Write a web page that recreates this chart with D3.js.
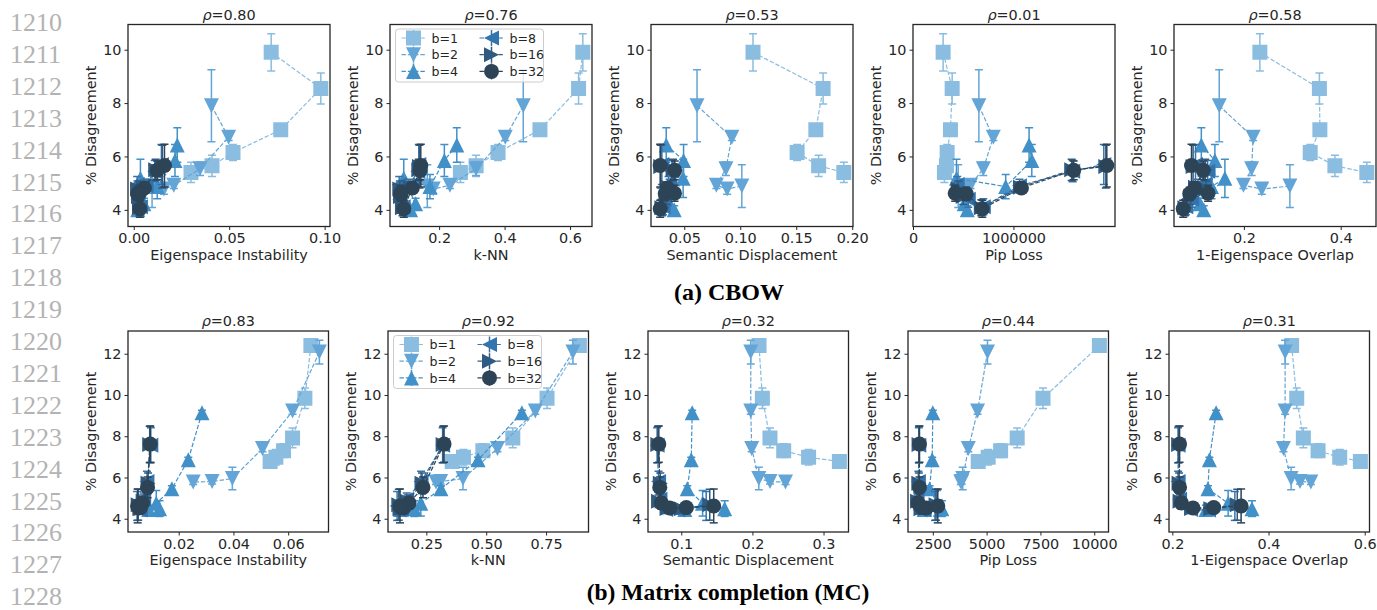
<!DOCTYPE html>
<html>
<head>
<meta charset="utf-8">
<script src="https://cdn.jsdelivr.net/npm/d3@7"></script>
<style>
  body { margin: 0; background: #fff; }
  text { font-family: "DejaVu Sans", sans-serif; fill: #262626; }
</style>
</head>
<body>
<svg width="1377" height="610"></svg>
<script>
// ---- DATA ----
var series = ["b=1", "b=2", "b=4", "b=8", "b=16", "b=32"];
var metrics = ["Eigenspace Instability", "k-NN", "Semantic Displacement", "Pip Loss", "1-Eigenspace Overlap"];

// (a) CBOW : % disagreement and error bar half-widths, one row per precision
var cbowDisagree = [
  [9.9, 8.55, 7.0, 6.15, 5.65, 5.4],
  [7.9, 6.72, 5.54, 4.92, 4.78, 4.89],
  [6.43, 5.85, 4.87, 5.18, 4.23, 4.0],
  [5.7, 5.45, 4.9, 4.12, 4.4, 4.95],
  [5.62, 5.5, 4.85, 4.08, 4.5, 4.78],
  [5.66, 5.48, 4.82, 4.04, 4.6, 4.62]
];
var cbowErr = [
  [0.7, 0.58, 0.22, 0.3, 0.4, 0.38],
  [1.35, 0.12, 0.25, 0.12, 0.2, 0.8],
  [0.65, 0.6, 0.45, 0.72, 0.2, 0.15],
  [0.75, 0.4, 0.25, 0.3, 0.3, 0.3],
  [0.8, 0.4, 0.2, 0.3, 0.3, 0.3],
  [0.8, 0.35, 0.2, 0.32, 0.25, 0.3]
];
var cbowEigInstability = [
  [0.072, 0.098, 0.077, 0.052, 0.041, 0.030],
  [0.0407, 0.0497, 0.0347, 0.021, 0.0158, 0.0096],
  [0.0228, 0.0216, 0.0123, 0.0035, 0.0053, 0.0021],
  [0.0145, 0.011, 0.0065, 0.0035, 0.0022, 0.0018],
  [0.015, 0.0115, 0.005, 0.003, 0.0025, 0.002],
  [0.0161, 0.0123, 0.0056, 0.0032, 0.0021, 0.0030]
];
var cbowKnn = [
  [0.639, 0.626, 0.508, 0.38, 0.313, 0.265],
  [0.457, 0.402, 0.313, 0.233, 0.182, 0.164],
  [0.254, 0.216, 0.172, 0.092, 0.128, 0.113],
  [0.138, 0.135, 0.108, 0.09, 0.08, 0.078],
  [0.14, 0.138, 0.112, 0.088, 0.082, 0.08],
  [0.144, 0.142, 0.118, 0.092, 0.084, 0.082]
];
var cbowSemDisp = [
  [0.1114, 0.174, 0.1675, 0.1508, 0.170, 0.1925],
  [0.0614, 0.0925, 0.0872, 0.0787, 0.0883, 0.1014],
  [0.0339, 0.0494, 0.040, 0.049, 0.037, 0.041],
  [0.03, 0.039, 0.037, 0.031, 0.032, 0.036],
  [0.029, 0.04, 0.036, 0.03, 0.034, 0.038],
  [0.0285, 0.0415, 0.035, 0.0285, 0.033, 0.0413]
];
var cbowPip = [
  [300000, 390000, 373000, 340000, 333000, 313000],
  [656000, 800000, 700000, 573000, 500000, 450000],
  [1156000, 1183000, 923000, 433000, 510000, 540000],
  [1900000, 1590000, 1060000, 700000, 550000, 440000],
  [1920000, 1580000, 1070000, 680000, 500000, 450000],
  [1930000, 1600000, 1080000, 690000, 530000, 420000]
];
var cbowEigOverlap = [
  [0.233, 0.356, 0.357, 0.337, 0.388, 0.454],
  [0.149, 0.219, 0.216, 0.199, 0.237, 0.295],
  [0.112, 0.14, 0.133, 0.1607, 0.109, 0.117],
  [0.1, 0.125, 0.105, 0.08, 0.092, 0.118],
  [0.095, 0.12, 0.1, 0.078, 0.09, 0.122],
  [0.0917, 0.116, 0.0986, 0.0745, 0.088, 0.126]
];
var cbowRho = ["0.80", "0.76", "0.53", "0.01", "0.58"];
var cbowXTicks = [[0, 0.05, 0.1], [0.2, 0.4, 0.6], [0.05, 0.1, 0.15, 0.2], [0, 1000000], [0.2, 0.4]];
var cbowYTicks = [4, 6, 8, 10];

// (b) Matrix completion
var mcDisagree = [
  [12.4, 9.84, 7.92, 7.3, 6.98, 6.78],
  [12.08, 9.22, 7.4, 5.95, 5.8, 5.78],
  [9.14, 6.86, 5.45, 4.75, 4.49, 4.45],
  [7.56, 5.8, 4.95, 4.45, 4.42, 4.62],
  [7.6, 5.72, 4.85, 4.5, 4.48, 4.68],
  [7.62, 5.52, 4.76, 4.52, 4.54, 4.62]
];
var mcErr = [
  [0.22, 0.5, 0.48, 0.33, 0.38, 0.15],
  [0.58, 0.15, 0.15, 0.55, 0.12, 0.12],
  [0.12, 0.12, 0.15, 0.62, 0.38, 0.2],
  [0.85, 0.5, 0.3, 0.2, 0.2, 0.7],
  [0.88, 0.5, 0.3, 0.2, 0.2, 0.75],
  [0.88, 0.5, 0.3, 0.2, 0.2, 0.82]
];
var mcEigInstability = [
  [0.0683, 0.0661, 0.0616, 0.0583, 0.0555, 0.0534],
  [0.0714, 0.0616, 0.0506, 0.0396, 0.0322, 0.0253],
  [0.0285, 0.0235, 0.0175, 0.0118, 0.013, 0.009],
  [0.0098, 0.0084, 0.0072, 0.006, 0.0058, 0.0048],
  [0.0094, 0.0088, 0.007, 0.0058, 0.0062, 0.0052],
  [0.0096, 0.0086, 0.0068, 0.0055, 0.006, 0.005]
];
var mcKnn = [
  [0.889, 0.754, 0.611, 0.486, 0.405, 0.358],
  [0.862, 0.705, 0.547, 0.403, 0.31, 0.29],
  [0.649, 0.466, 0.311, 0.227, 0.2, 0.142],
  [0.318, 0.228, 0.168, 0.145, 0.135, 0.128],
  [0.32, 0.232, 0.172, 0.15, 0.14, 0.135],
  [0.324, 0.236, 0.178, 0.155, 0.145, 0.14]
];
var mcSemDisp = [
  [0.2093, 0.214, 0.2247, 0.244, 0.279, 0.3223],
  [0.1977, 0.1977, 0.199, 0.209, 0.2247, 0.2465],
  [0.1153, 0.114, 0.1084, 0.130, 0.161, 0.105],
  [0.066, 0.068, 0.07, 0.078, 0.095, 0.135],
  [0.067, 0.0705, 0.068, 0.08, 0.1, 0.14],
  [0.0684, 0.0698, 0.072, 0.0837, 0.107, 0.1456]
];
var mcPip = [
  [10240, 7620, 6420, 5650, 5070, 4610],
  [5040, 4580, 4150, 3890, 3840, 3800],
  [2500, 2470, 2350, 2700, 2920, 2100],
  [1850, 1830, 1770, 2100, 1900, 2600],
  [1860, 1850, 1790, 2150, 1950, 2650],
  [1880, 1880, 1810, 2200, 2000, 2730]
];
var mcEigOverlap = [
  [0.448, 0.4586, 0.4724, 0.503, 0.548, 0.591],
  [0.4345, 0.4345, 0.431, 0.447, 0.4655, 0.488],
  [0.291, 0.277, 0.274, 0.316, 0.3655, 0.27],
  [0.212, 0.212, 0.215, 0.238, 0.275, 0.33],
  [0.213, 0.214, 0.216, 0.24, 0.28, 0.335],
  [0.215, 0.215, 0.219, 0.243, 0.286, 0.343]
];
var mcRho = ["0.83", "0.92", "0.32", "0.44", "0.31"];
var mcXTicks = [[0.02, 0.04, 0.06], [0.25, 0.5, 0.75], [0.1, 0.2, 0.3], [2500, 5000, 7500, 10000], [0.2, 0.4, 0.6]];
var mcYTicks = [4, 6, 8, 10, 12];

var lineNumbers = d3.range(1210, 1229);

// ---- STYLE ----
var colors = ["#8abde0", "#63a5d6", "#4290c8", "#3474ad", "#2f5b82", "#2d4356"];
var shapes = ["square", "down", "up", "left", "right", "circle"];
var ink = "#262626";
var fs = "14.4px";

var svg = d3.select("svg");

function markerPath(shape, s) {
  var r = s / 2;
  if (shape == "square") return "M" + -r + "," + -r + "h" + s + "v" + s + "h" + -s + "Z";
  if (shape == "circle") return d3.symbol(d3.symbolCircle, Math.PI * r * r)();
  if (shape == "up") return "M0," + -r + "L" + r + "," + r + "L" + -r + "," + r + "Z";
  if (shape == "down") return "M0," + r + "L" + r + "," + -r + "L" + -r + "," + -r + "Z";
  if (shape == "left") return "M" + -r + ",0L" + r + "," + -r + "L" + r + "," + r + "Z";
  return "M" + r + ",0L" + -r + "," + -r + "L" + -r + "," + r + "Z";
}

var panelId = 0;

function drawPanel(left, top, w, h, xs, ys, errs, o) {
  var g = svg.append("g").attr("transform", "translate(" + left + "," + top + ")");
  var ext = d3.extent(d3.merge(xs)), pad = (ext[1] - ext[0]) * 0.05;
  var x = d3.scaleLinear().domain([o.zeroX ? 0 : ext[0] - pad, ext[1] + pad]).range([0, w]);
  var lo = d3.min(ys, function (s, i) { return d3.min(s, function (v, j) { return v - errs[i][j]; }); });
  var hi = d3.max(ys, function (s, i) { return d3.max(s, function (v, j) { return v + errs[i][j]; }); });
  var yp = (hi - lo) * 0.05;
  var y = d3.scaleLinear().domain([lo - yp, hi + yp]).range([h, 0]);

  var id = "clip" + (panelId++);
  g.append("clipPath").attr("id", id).append("rect").attr("width", w).attr("height", h);
  var plot = g.append("g").attr("clip-path", "url(#" + id + ")");

  series.forEach(function (name, i) {
    var pts = xs[i].map(function (xv, j) { return [xv, ys[i][j], errs[i][j]]; });
    var sg = plot.append("g");
    sg.append("path")
      .attr("d", d3.line().x(function (d) { return x(d[0]); }).y(function (d) { return y(d[1]); })(pts))
      .attr("fill", "none").attr("stroke", colors[i])
      .attr("stroke-width", 1.2).attr("stroke-dasharray", "4.4,1.9");
    var eb = sg.selectAll(".eb").data(pts).enter().append("g");
    eb.append("line")
      .attr("x1", function (d) { return x(d[0]); }).attr("x2", function (d) { return x(d[0]); })
      .attr("y1", function (d) { return y(d[1] - d[2]); }).attr("y2", function (d) { return y(d[1] + d[2]); })
      .attr("stroke", colors[i]).attr("stroke-width", 1.5);
    [-1, 1].forEach(function (sgn) {
      eb.append("line")
        .attr("x1", function (d) { return x(d[0]) - 4; }).attr("x2", function (d) { return x(d[0]) + 4; })
        .attr("y1", function (d) { return y(d[1] + sgn * d[2]); }).attr("y2", function (d) { return y(d[1] + sgn * d[2]); })
        .attr("stroke", colors[i]).attr("stroke-width", 1.5);
    });
    sg.selectAll(".mk").data(pts).enter().append("path")
      .attr("transform", function (d) { return "translate(" + x(d[0]) + "," + y(d[1]) + ")"; })
      .attr("d", markerPath(shapes[i], 15))
      .attr("fill", colors[i]);
  });

  // axes
  var xa = g.append("g").attr("transform", "translate(0," + h + ")")
    .call(d3.axisBottom(x).tickValues(o.xTicks).tickFormat(d3.format(o.fmt)).tickSizeOuter(0).tickSize(3.5).tickPadding(3));
  var ya = g.append("g")
    .call(d3.axisLeft(y).tickValues(o.yTicks).tickFormat(d3.format("d")).tickSizeOuter(0).tickSize(3.5).tickPadding(3));
  [xa, ya].forEach(function (a) {
    a.select(".domain").remove();
    a.selectAll("line").attr("stroke", ink);
    a.selectAll("text").attr("fill", ink).style("font-size", fs).style("font-family", "DejaVu Sans");
  });

  g.append("rect").attr("width", w).attr("height", h)
    .attr("fill", "none").attr("stroke", ink).attr("stroke-width", 1.3);

  g.append("text").attr("x", w / 2).attr("y", h + 33).attr("text-anchor", "middle")
    .style("font-size", fs).text(o.xLabel);
  g.append("text").attr("transform", "translate(-32," + (h / 2) + ") rotate(-90)")
    .attr("text-anchor", "middle").style("font-size", fs).text("% Disagreement");
  var t = g.append("text").attr("x", w / 2).attr("y", -5).attr("text-anchor", "middle").style("font-size", fs);
  t.append("tspan").style("font-style", "italic").text("\u03c1");
  t.append("tspan").text("=" + o.rho);

  if (o.legend) {
    var lg = g.append("g").attr("transform", "translate(5.5,4.5)");
    lg.append("rect").attr("width", 148).attr("height", 53).attr("rx", 3)
      .attr("fill", "#fff").attr("fill-opacity", 0.8).attr("stroke", "#cccccc");
    series.forEach(function (name, i) {
      var cx = i < 3 ? 18 : 96, cy = 9 + (i % 3) * 16.7;
      var e = lg.append("g").attr("transform", "translate(" + cx + "," + cy + ")");
      e.append("line").attr("x1", -12).attr("x2", 12).attr("stroke", colors[i])
        .attr("stroke-width", 1.2).attr("stroke-dasharray", "4.4,1.9");
      e.append("line").attr("y1", -8).attr("y2", 8).attr("stroke", colors[i]).attr("stroke-width", 1.5);
      e.append("path").attr("d", markerPath(shapes[i], 15)).attr("fill", colors[i]);
      lg.append("text").attr("x", cx + 18).attr("y", cy + 4.6)
        .style("font-size", "12.6px").text(name);
    });
  }
}

var cbowX = [cbowEigInstability, cbowKnn, cbowSemDisp, cbowPip, cbowEigOverlap];
var mcX = [mcEigInstability, mcKnn, mcSemDisp, mcPip, mcEigOverlap];
var cbowFmt = [".2f", ".1f", ".2f", "d", ".1f"];
var mcFmt = [".2f", ".2f", ".1f", "d", ".1f"];
var topLefts = [128, 390, 651, 913, 1174];
var botLefts = [128, 388, 648, 908, 1169];

metrics.forEach(function (m, k) {
  drawPanel(topLefts[k], 24.5, 202, 202, cbowX[k], cbowDisagree, cbowErr, {
    xTicks: cbowXTicks[k], fmt: cbowFmt[k], yTicks: cbowYTicks, rho: cbowRho[k],
    xLabel: m, zeroX: k == 3, legend: k == 1
  });
  drawPanel(botLefts[k], 331, 200.5, 201, mcX[k], mcDisagree, mcErr, {
    xTicks: mcXTicks[k], fmt: mcFmt[k], yTicks: mcYTicks, rho: mcRho[k],
    xLabel: m, zeroX: false, legend: k == 1
  });
});

// captions
svg.append("text").attr("x", 729).attr("y", 300).attr("text-anchor", "middle")
  .style("font-family", "Liberation Serif").style("font-weight", "bold").style("font-size", "24px")
  .style("fill", "#000").text("(a) CBOW");
svg.append("text").attr("x", 728).attr("y", 600).attr("text-anchor", "middle")
  .style("font-family", "Liberation Serif").style("font-weight", "bold").style("font-size", "23.5px")
  .style("fill", "#000").text("(b) Matrix completion (MC)");

// line numbers in the margin
svg.selectAll(".ln").data(lineNumbers).enter().append("text")
  .attr("x", 10).attr("y", function (d, i) { return 31 + i * 31.9; })
  .style("font-family", "Liberation Serif").style("font-size", "26px").style("fill", "#b3b3b3")
  .text(function (d) { return d; });
</script>
</body>
</html>
